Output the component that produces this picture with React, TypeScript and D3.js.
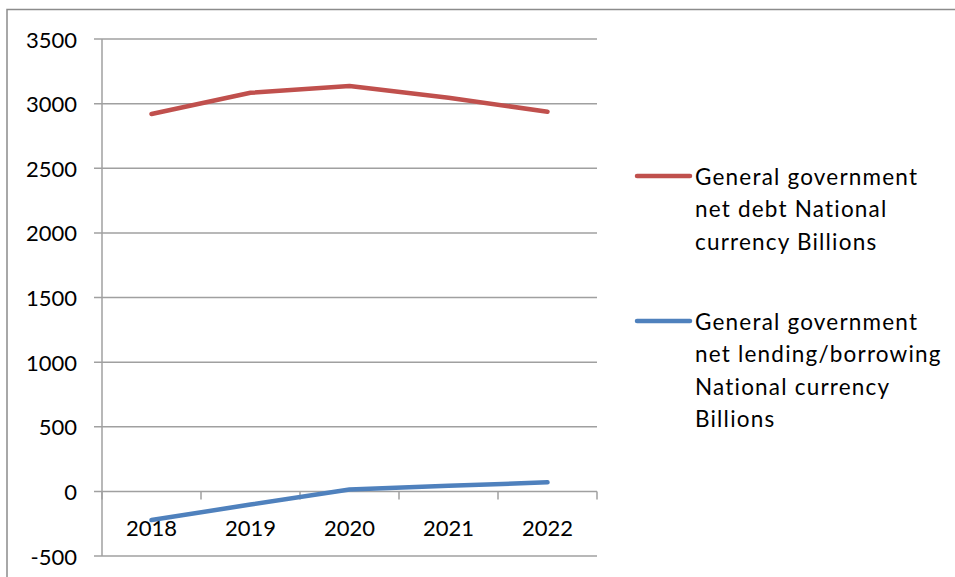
import React from "react";
import * as d3 from "d3";

const categories = ["2018", "2019", "2020", "2021", "2022"];
const netDebt = [2920, 3084, 3136, 3046, 2937];
const netLending = [-222, -102, 15, 43, 70];
const yTicks = [-500, 0, 500, 1000, 1500, 2000, 2500, 3000, 3500];
const seriesNames = [
  ["General government", "net debt National", "currency Billions"],
  ["General government", "net lending/borrowing", "National currency", "Billions"],
];
const seriesColors = ["#C0504D", "#4F81BD"];

export default function App() {
  const W = 955, H = 577;
  const x = d3.scaleBand<string>().domain(categories).range([102, 597]).padding(0);
  const y = d3.scaleLinear().domain([-500, 3500]).range([556, 39]);
  const line = d3
    .line<number>()
    .x((_, i) => (x(categories[i]) as number) + x.bandwidth() / 2)
    .y((d) => y(d));
  const font = "Lato, 'Open Sans', sans-serif";
  const grid = "#A0A0A0";
  const series = [netDebt, netLending];
  const legendY = [176, 321];
  const lh = 32.5;

  return (
    <svg width={W} height={H} style={{ position: "absolute", left: 0, top: 0 }}>
      <rect x={0} y={0} width={W} height={H} fill="#fff" />
      <rect x={7} y={9.5} width={W + 5} height={H + 5} fill="none" stroke="#8C8C8C" strokeWidth={1.5} />
      {yTicks.map((t) => (
        <g key={t}>
          <line x1={94} x2={597} y1={y(t)} y2={y(t)} stroke={grid} strokeWidth={1.5} />
          <text x={77} y={y(t)} textAnchor="end" dominantBaseline="central" fontFamily={font} fontSize={22} fill="#000">
            {t}
          </text>
        </g>
      ))}
      <line x1={102} x2={102} y1={y(3500)} y2={y(-500)} stroke={grid} strokeWidth={1.5} />
      {[...categories.map((c) => x(c) as number), 597].map((px, i) => (
        <line key={i} x1={px} x2={px} y1={y(0)} y2={y(0) + 8} stroke={grid} strokeWidth={1.5} />
      ))}
      {categories.map((c) => (
        <text key={c} x={(x(c) as number) + x.bandwidth() / 2} y={527} textAnchor="middle" dominantBaseline="central" fontFamily={font} fontSize={22} fill="#000">
          {c}
        </text>
      ))}
      {series.map((s, i) => (
        <path key={i} d={line(s) || ""} fill="none" stroke={seriesColors[i]} strokeWidth={4.5} strokeLinecap="round" strokeLinejoin="round" />
      ))}
      {seriesNames.map((names, i) => (
        <g key={i}>
          <line x1={637} x2={690} y1={legendY[i]} y2={legendY[i]} stroke={seriesColors[i]} strokeWidth={4.5} strokeLinecap="round" />
          {names.map((n, j) => (
            <text key={j} x={695} y={legendY[i] + j * lh} dominantBaseline="central" fontFamily={font} fontSize={22.5} letterSpacing={1.2} fill="#000">
              {n}
            </text>
          ))}
        </g>
      ))}
    </svg>
  );
}
